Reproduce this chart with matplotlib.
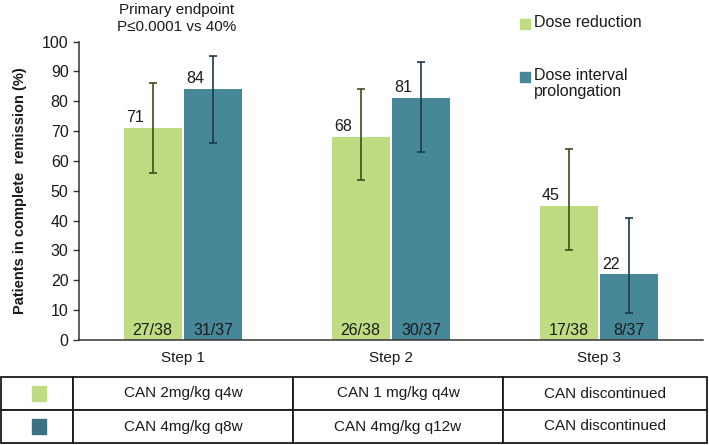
import numpy as np
import matplotlib
matplotlib.use("Agg")
import matplotlib.pyplot as plt
from matplotlib.patches import Rectangle

plt.rcParams['font.family'] = ['Liberation Sans', 'DejaVu Sans']

# --- Data ---
steps = ['Step 1', 'Step 2', 'Step 3']
dose_reduction = [71, 68, 45]
dose_red_low = [56, 53.5, 30]
dose_red_high = [86, 84, 64]
dose_red_counts = ['27/38', '26/38', '17/38']

interval_prolong = [84, 81, 22]
interval_low = [66, 63, 9]
interval_high = [95, 93, 41]
interval_counts = ['31/37', '30/37', '8/37']

legend_labels = ['Dose reduction', 'Dose interval\nprolongation']
table_rows = [['CAN 2mg/kg q4w', 'CAN 1 mg/kg q4w', 'CAN discontinued'],
              ['CAN 4mg/kg q8w', 'CAN 4mg/kg q12w', 'CAN discontinued']]

GREEN = '#bfdc82'
TEAL = '#468798'
GREEN_ERR = '#3e4d1b'
TEAL_ERR = '#1d3a4e'
TEAL_SQ = '#3b7085'
TXT = '#1a1a1a'

W, H = 709, 445
fig = plt.figure(figsize=(W / 100, H / 100), dpi=100)
ax = fig.add_axes([79 / W, 1 - 340 / H, 624 / W, 298.5 / H])

x = np.arange(len(steps))
bw = 0.278
off = 0.146

for vals, lo, hi, counts, xs, col, ecol in [
        (dose_reduction, dose_red_low, dose_red_high, dose_red_counts, x - off, GREEN, GREEN_ERR),
        (interval_prolong, interval_low, interval_high, interval_counts, x + off, TEAL, TEAL_ERR)]:
    vals = np.array(vals)
    yerr = [vals - np.array(lo), np.array(hi) - vals]
    ax.bar(xs, vals, width=bw, color=col, zorder=2)
    ax.errorbar(xs, vals, yerr=yerr, fmt='none', ecolor=ecol, elinewidth=1.2,
                capsize=2.6, capthick=1.2, zorder=3)
    for xi, v, c in zip(xs, vals, counts):
        ax.annotate(str(v), xy=(xi - bw / 2, v), xytext=(1.5, 2), textcoords='offset points',
                    ha='left', va='bottom', fontsize=11.5, color=TXT)
        ax.annotate(c, xy=(xi, 0), xytext=(0, 3.5), textcoords='offset points',
                    ha='center', va='baseline', fontsize=11.5, color=TXT)

ax.set_xlim(-0.5, 2.5)
ax.set_ylim(0, 100)
ax.set_yticks(range(0, 101, 10))
ax.set_xticks(x)
ax.set_xticklabels(steps, fontsize=11)
ax.tick_params(axis='x', length=0, pad=8, colors=TXT)
ax.tick_params(axis='y', labelsize=11.5, length=4.5, width=1, color='#333333', pad=3,
               labelcolor=TXT)
for s in ['top', 'right']:
    ax.spines[s].set_visible(False)
for s in ['left', 'bottom']:
    ax.spines[s].set_color('#333333')
    ax.spines[s].set_linewidth(1.1)
ax.set_ylabel('Patients in complete  remission (%)', fontsize=10.5, fontweight='bold',
              color=TXT)
ax.yaxis.set_label_coords(-0.083, 0.5)

# annotation above step 1
fig.text(177 / W, 1 - 3 / H, 'Primary endpoint\nP\u22640.0001 vs 40%', ha='center', va='top',
         fontsize=11, linespacing=1.25, color=TXT)

# legend (manual, top right)
for (ytop, label, col) in [(19, legend_labels[0], GREEN), (72, legend_labels[1], TEAL)]:
    fig.patches.append(Rectangle((520 / W, 1 - (ytop + 10) / H), 10 / W, 10 / H,
                                 transform=fig.transFigure, color=col))
    fig.text(534 / W, 1 - (ytop - 4) / H, label, ha='left', va='top', fontsize=11.5,
             linespacing=1.05, color=TXT)

# table below
tab_ax = fig.add_axes([1 / W, 1 - 443 / H, 706 / W, 66 / H])
tab_ax.axis('off')
cell_text = [[''] + r for r in table_rows]
col_w = np.array([72, 220, 210, 204], dtype=float)
tbl = tab_ax.table(cellText=cell_text, colWidths=list(col_w / col_w.sum()),
                   bbox=[0, 0, 1, 1], cellLoc='center')
tbl.auto_set_font_size(False)
for (r, c), cell in tbl.get_celld().items():
    cell.set_linewidth(1.3)
    cell.set_edgecolor(TXT)
    cell.get_text().set_fontsize(11)
    cell.get_text().set_color(TXT)

for row, col in enumerate([GREEN, TEAL_SQ]):
    yc = 1 - (393 + row * 33) / H
    fig.patches.append(Rectangle((32 / W, yc - 7.5 / H), 14 / W, 15 / H,
                                 transform=fig.transFigure, color=col))

fig.savefig('out.png', dpi=100)
